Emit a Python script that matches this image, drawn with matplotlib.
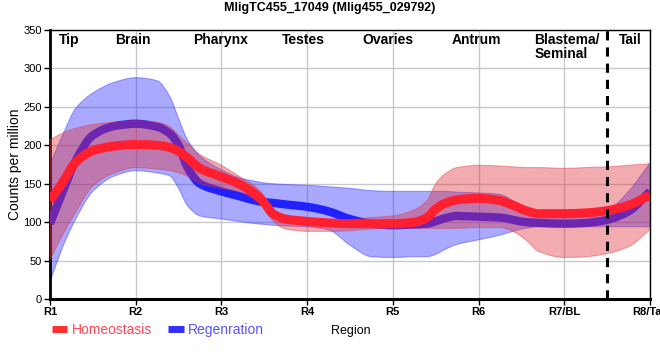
import matplotlib
matplotlib.use("Agg")
import matplotlib.pyplot as plt
from matplotlib.lines import Line2D
from matplotlib.path import Path
from matplotlib.patches import PathPatch

plt.rcParams['font.family'] = ['Liberation Sans', 'DejaVu Sans']

# ---- data ----
title = "MligTC455_17049 (Mlig455_029792)"
tick_labels = ["R1", "R2", "R3", "R4", "R5", "R6", "R7/BL", "R8/Tail"]
y_ticks = [0, 50, 100, 150, 200, 250, 300, 350]
regions = ["Tip", "Brain", "Pharynx", "Testes", "Ovaries", "Antrum", "Blastema/\nSeminal", "Tail"]
region_pos = [0.22, 0.97, 1.99, 2.96, 3.94, 4.98, 5.65, 6.77]
region_align = ["center", "center", "center", "center", "center", "center", "left", "center"]
divider = 6.5

pos = [0, 0.15, 0.3, 0.5, 0.75, 1.0, 1.25, 1.4, 1.5, 1.6, 1.75, 2.0, 2.2, 2.4, 2.5, 2.6,
       2.75, 3.0, 3.25, 3.5, 3.75, 4.0, 4.25, 4.4, 4.5, 4.6, 4.75, 5.0, 5.25, 5.4, 5.55,
       5.7, 6.0, 6.25, 6.5, 6.75, 7.0]

homeo_mean = [128, 152, 178, 193, 199, 201, 200, 197, 192, 184, 170, 159, 150, 136, 125, 111,
              104, 101, 99, 98, 98, 98, 100, 106, 117, 124, 129, 131, 128, 122, 115,
              111, 111, 112, 115, 122, 135]
homeo_upper = [207, 216, 222, 227, 230, 232, 230, 224, 213, 203, 188, 174, 160, 146, 134, 116,
               103, 101, 101, 103, 106, 108, 116, 128, 150, 162, 171, 174, 173, 172, 171,
               171, 170, 171, 172, 174, 176]
homeo_lower = [51, 84, 113, 147, 164, 171, 169, 167, 164, 160, 150, 144, 140, 128, 118, 102,
               91, 88, 88, 89, 91, 92, 92, 92, 92, 92, 92, 93, 93, 88, 77,
               62, 54, 55, 59, 68, 90]

regen_mean = [98, 140, 180, 213, 225, 228, 224, 215, 200, 172, 150, 140, 134, 128, 126, 125,
              123, 120, 114, 104, 98, 96, 97, 98, 101, 105, 108, 107, 106, 103, 100,
              99, 98, 99, 103, 114, 140]
regen_upper = [175, 214, 248, 268, 282, 288, 284, 263, 235, 208, 186, 168, 158, 153, 151, 150,
               149, 148, 146, 144, 141, 140, 140, 140, 140, 140, 139, 138, 136, 128, 118,
               110, 106, 108, 115, 140, 177]
regen_lower = [22, 68, 104, 140, 160, 167, 164, 160, 144, 122, 108, 104, 101, 98, 97, 96,
               95, 94, 90, 70, 55, 54, 55, 55, 58, 64, 71, 77, 83, 88, 92,
               94, 94, 94, 94, 94, 94]

series_names = ["Homeostasis", "Regenration"]
line_colors = ["#ff1f2f", "#2121ff"]
band_colors = ["#e0303a", "#2a2aff"]
text_colors = ["#ff4a58", "#5555ff"]


def _tangents(x, y):
    n = len(x)
    h = [x[i + 1] - x[i] for i in range(n - 1)]
    d = [(y[i + 1] - y[i]) / h[i] for i in range(n - 1)]
    m = [0.0] * n
    m[0], m[-1] = d[0], d[-1]
    for k in range(1, n - 1):
        if d[k - 1] * d[k] <= 0:
            m[k] = 0.0
        else:
            w1 = 2 * h[k] + h[k - 1]
            w2 = h[k] + 2 * h[k - 1]
            m[k] = (w1 + w2) / (w1 / d[k - 1] + w2 / d[k])
    return m


def smooth_segments(x, y):
    """Cubic Bezier segments (monotone Hermite) through the read points."""
    m = _tangents(x, y)
    verts, codes = [], []
    for i in range(len(x) - 1):
        h = x[i + 1] - x[i]
        verts += [(x[i] + h / 3, y[i] + m[i] * h / 3),
                  (x[i + 1] - h / 3, y[i + 1] - m[i + 1] * h / 3),
                  (x[i + 1], y[i + 1])]
        codes += [Path.CURVE4] * 3
    return verts, codes


def line_path(x, y):
    v, c = smooth_segments(x, y)
    return Path([(x[0], y[0])] + v, [Path.MOVETO] + c)


def band_path(x, lo, hi):
    v1, c1 = smooth_segments(x, hi)
    xr, lr = x[::-1], lo[::-1]
    v2, c2 = smooth_segments(xr, lr)
    verts = [(x[0], hi[0])] + v1 + [(xr[0], lr[0])] + v2 + [(x[0], hi[0])]
    codes = [Path.MOVETO] + c1 + [Path.LINETO] + c2 + [Path.CLOSEPOLY]
    return Path(verts, codes)


# ---- figure ----
fig = plt.figure(figsize=(6.6, 3.6), dpi=100)
ax = fig.add_axes([50/660, 1 - 299/360, 600/660, 269/360])

ax.add_patch(PathPatch(band_path(pos, regen_lower, regen_upper), facecolor=band_colors[1],
                       edgecolor=band_colors[1], alpha=0.4, lw=0.8, zorder=2))
ax.add_patch(PathPatch(line_path(pos, regen_mean), facecolor='none',
                       edgecolor=line_colors[1], lw=6, capstyle='butt', zorder=3))
ax.add_patch(PathPatch(band_path(pos, homeo_lower, homeo_upper), facecolor=band_colors[0],
                       edgecolor=band_colors[0], alpha=0.4, lw=0.8, zorder=4))
ax.add_patch(PathPatch(line_path(pos, homeo_mean), facecolor='none',
                       edgecolor=line_colors[0], lw=6.5, capstyle='butt', zorder=5))

ax.axvline(divider, color='black', lw=2.2, dashes=(3, 2.3), zorder=6)

ax.set_xlim(0, 7)
ax.set_ylim(0, 350)
ax.set_xticks(range(len(tick_labels)))
ax.set_xticklabels(tick_labels, fontsize=8, fontweight='bold')
ax.set_yticks(y_ticks)
ax.set_yticklabels([str(v) for v in y_ticks], fontsize=8)
ax.tick_params(axis='both', length=4, width=1, pad=2, color='black')
ax.grid(True, color='#c8c8c8', lw=1, zorder=0)
ax.set_axisbelow(True)

for side, lw in [('left', 2.0), ('bottom', 2.2), ('top', 1.0), ('right', 1.0)]:
    ax.spines[side].set_linewidth(lw)
    ax.spines[side].set_color('black')

ax.set_ylabel("Counts per million", fontsize=10)
ax.yaxis.set_label_coords(-0.047, 0.5)

trans = ax.get_xaxis_transform()
for name, x, ha in zip(regions, region_pos, region_align):
    ax.text(x, 1 - 3/269, name, transform=trans, ha=ha, va='top',
            fontsize=10, fontweight='bold', linespacing=1.0, zorder=7)

fig.text(0.5, 1 - 8/360, title, ha='center', va='center', fontsize=9, fontweight='bold')
fig.text(351/660, 1 - 331/360, "Region", ha='center', va='center', fontsize=9)

handles = [Line2D([], [], color=c, lw=5, solid_capstyle='butt') for c in
           ["#ff3030", "#3030ff"]]
leg = fig.legend(handles, series_names, loc='center left',
                 bbox_to_anchor=(52/660, 1 - 330/360), ncol=2, frameon=False,
                 fontsize=10, handlelength=1.1, handletextpad=0.3,
                 columnspacing=1.2, borderpad=0, borderaxespad=0,
                 labelcolor=text_colors)

fig.savefig("out.png", dpi=100)
